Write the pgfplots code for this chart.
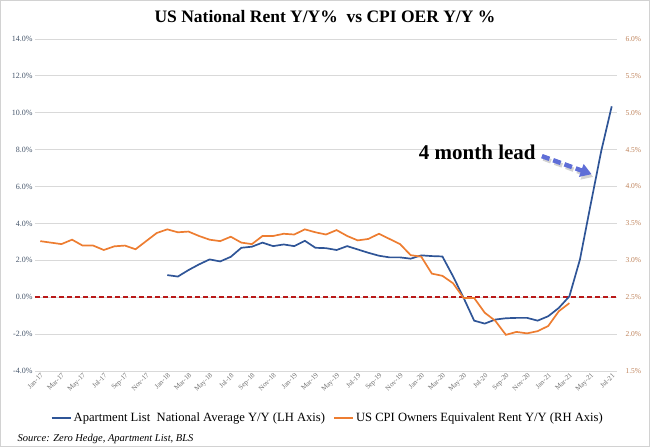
\documentclass[border=0pt]{standalone}
\usepackage{pgfplots}
\pgfplotsset{compat=1.18}
\usepackage{fontspec}
\setmainfont{Liberation Serif}
\usetikzlibrary{arrows.meta}
\definecolor{bl}{RGB}{47,85,151}
\definecolor{orn}{RGB}{237,125,49}
\definecolor{gridc}{RGB}{217,217,217}
\definecolor{lefttick}{RGB}{68,84,106}
\definecolor{righttick}{RGB}{190,130,90}
\definecolor{xlab}{RGB}{110,110,110}
\definecolor{zred}{RGB}{185,25,25}
\definecolor{arrowc}{RGB}{95,110,215}
\begin{document}
\begin{tikzpicture}[x=1pt,y=1pt]
\useasboundingbox (0,0) rectangle (650,447);
\draw[gray!35, line width=1.2pt] (0.6,0.6) rectangle (649.4,446.4);
\node[font=\fontsize{17.5}{19}\selectfont\bfseries] at (325,430) {US National Rent Y/Y\%~ vs CPI OER Y/Y \%};
\node[anchor=west, font=\fontsize{10.5}{12}\selectfont\itshape] at (14,8) {Source: Zero Hedge, Apartment List, BLS};
\begin{axis}[
  at={(35pt,76pt)}, anchor=south west,
  scale only axis, width=582pt, height=332pt,
  xmin=-0.5, xmax=54.5, ymin=-4, ymax=14,
  ytick={-4,-2,...,14},
  ymajorgrids, grid style={gridc, line width=0.9pt},
  axis line style={draw=none},
  major tick length=0pt,
  /pgf/number format/assume math mode=true,
  yticklabel={\pgfmathprintnumber[fixed,fixed zerofill,precision=1]{\tick}\%},
  y tick label style={font=\fontsize{8}{9}\selectfont, text=lefttick, xshift=1pt},
  xtick={0,2,...,54},
  xticklabels={Jan-17,Mar-17,May-17,Jul-17,Sep-17,Nov-17,Jan-18,Mar-18,May-18,Jul-18,Sep-18,Nov-18,Jan-19,Mar-19,May-19,Jul-19,Sep-19,Nov-19,Jan-20,Mar-20,May-20,Jul-20,Sep-20,Nov-20,Jan-21,Mar-21,May-21,Jul-21},
  x tick label style={rotate=45, anchor=north east, font=\fontsize{7}{8}\selectfont, text=xlab, inner sep=1pt},
  clip=false,
]
\addplot[draw=zred, line width=1.5pt, dash pattern=on 5pt off 3pt] coordinates {(-0.5,0) (54.5,0)};
\addplot[bl, line width=1.7pt] coordinates {
(12,1.20) (13,1.12) (14,1.47) (15,1.78) (16,2.05) (17,1.94) (18,2.19) (19,2.68)
(20,2.74) (21,2.96) (22,2.77) (23,2.86) (24,2.77) (25,3.06) (26,2.68) (27,2.66)
(28,2.56) (29,2.77) (30,2.59) (31,2.41) (32,2.25) (33,2.16) (34,2.16) (35,2.09)
(36,2.27) (37,2.23) (38,2.21) (39,1.14) (40,-0.03) (41,-1.27) (42,-1.43) (43,-1.21)
(44,-1.14) (45,-1.12) (46,-1.12) (47,-1.27) (48,-1.03) (49,-0.58) (50,0.05) (51,2.05)
(52,5.00) (53,7.90) (54,10.35)};
\node[font=\fontsize{21}{23}\selectfont\bfseries] at (axis cs:41.3,7.86) {4 month lead};
\draw[gray!35, line width=4.5pt, dash pattern=on 8pt off 4pt, -{Triangle[length=11pt,width=13pt]}] (axis cs:47.55,7.52) -- (axis cs:52.25,6.52);
\draw[arrowc, line width=4.5pt, dash pattern=on 8pt off 4pt, -{Triangle[length=11pt,width=13pt]}] (axis cs:47.4,7.65) -- (axis cs:52.1,6.67);
\end{axis}
\begin{axis}[
  at={(35pt,76pt)}, anchor=south west,
  scale only axis, width=582pt, height=332pt,
  xmin=-0.5, xmax=54.5, ymin=1.5, ymax=6,
  axis y line*=right, axis x line=none,
  ytick={1.5,2,...,6},
  axis line style={draw=none},
  major tick length=0pt,
  /pgf/number format/assume math mode=true,
  yticklabel={\pgfmathprintnumber[fixed,fixed zerofill,precision=1]{\tick}\%},
  y tick label style={font=\fontsize{7.5}{8}\selectfont, text=righttick, xshift=5pt},
  legend style={at={(0.503,-0.1416)}, anchor=center, draw=none, fill=none,
    font=\fontsize{12.6}{15}\selectfont, /tikz/every even column/.append style={column sep=6pt}},
  legend columns=2,
  legend image code/.code={\draw[#1, line width=2pt] (0pt,0pt) -- (19pt,0pt);},
]
\addlegendimage{bl}
\addlegendentry{Apartment List~ National Average Y/Y (LH Axis)}
\addplot[orn, line width=1.7pt] coordinates {
(0,3.26) (1,3.24) (2,3.22) (3,3.28) (4,3.20) (5,3.20) (6,3.14) (7,3.19) (8,3.20) (9,3.15)
(10,3.26) (11,3.37) (12,3.42) (13,3.38) (14,3.39) (15,3.33) (16,3.28) (17,3.26) (18,3.32) (19,3.24)
(20,3.22) (21,3.33) (22,3.33) (23,3.36) (24,3.35) (25,3.42) (26,3.38) (27,3.35) (28,3.41) (29,3.33)
(30,3.27) (31,3.29) (32,3.36) (33,3.29) (34,3.22) (35,3.07) (36,3.05) (37,2.82) (38,2.79) (39,2.69)
(40,2.49) (41,2.49) (42,2.29) (43,2.18) (44,1.99) (45,2.03) (46,2.01) (47,2.04) (48,2.11) (49,2.31)
(50,2.42)};
\addlegendentry{US CPI Owners Equivalent Rent Y/Y (RH Axis)}
\end{axis}
\end{tikzpicture}
\end{document}
